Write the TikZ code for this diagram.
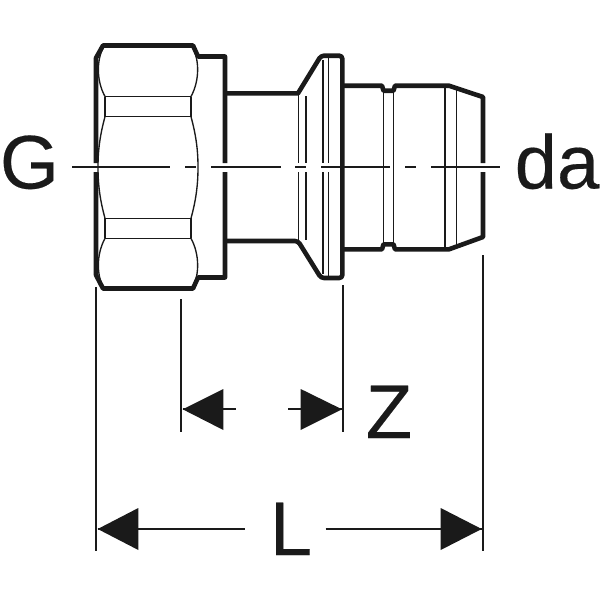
\documentclass[tikz,border=0pt]{standalone}
\usepackage{fontspec}
\setmainfont[FakeBold=0.25]{Liberation Sans}
\definecolor{ink}{HTML}{1A1A1A}
\tikzset{
  thickline/.style={draw=ink,line width=4.6pt,line join=round,line cap=butt},
  thinline/.style={draw=ink,line width=1.35pt},
  centre/.style={draw=ink,line width=1.6pt},
  extline/.style={draw=ink,line width=1.8pt},
  dimline/.style={draw=ink,line width=1.8pt},
  head/.style={fill=ink,draw=none},
  lab/.style={text=ink,inner sep=0pt,anchor=base,font=\fontsize{76}{76}\selectfont}
}
\begin{document}
\begin{tikzpicture}[x=1pt,y=-1pt]
\useasboundingbox (0,0) rectangle (600,600);
\fill[white] (0,0) rectangle (600,600);
% nut outline
\draw[thickline] (96,163) -- (96,58) -- (103,45.5) -- (193,45.5) -- (198,56.5) -- (225,56.5) -- (225,163);
\draw[thickline] (96,172) -- (96,275) -- (103,288.5) -- (193,288.5) -- (198,277.5) -- (225,277.5) -- (225,172);
% hex facets
\draw[thinline] (105,96.5) -- (191,96.5) (105,116.7) -- (191,116.7) (105,218.3) -- (191,218.3) (105,238.3) -- (191,238.3);
\draw[thinline] (105,96.5) -- (105,116.7) (191,96.5) -- (191,116.7) (105,218.3) -- (105,238.3) (191,218.3) -- (191,238.3);
\draw[thinline] (103,48) .. controls (97,60) and (96,80) .. (105,96.5);
\draw[thinline] (105,116.7) .. controls (100,135) and (98,150) .. (98,167) .. controls (98,185) and (100,200) .. (105,218.3);
\draw[thinline] (105,238.3) .. controls (96,255) and (97,275) .. (103,287);
\draw[thinline] (193,48) .. controls (199,60) and (200,80) .. (191,96.5);
\draw[thinline] (191,116.7) .. controls (196,135) and (198,150) .. (198,167) .. controls (198,185) and (196,200) .. (191,218.3);
\draw[thinline] (191,238.3) .. controls (200,255) and (199,275) .. (193,287);
% collar
\draw[thickline] (225,93.3) -- (298,93.3) [rounded corners=3pt] -- (321,55.7) -- (342.3,55.7) -- (342.3,278) -- (321,278) -- (298,241) [sharp corners] -- (225,241);
\draw[thinline] (298.7,94) -- (298.7,163) (298.7,172) -- (298.7,240) (306,96) -- (306,163) (306,172) -- (306,240);
\draw[thinline] (323,60) -- (323,163) (323,172) -- (323,274) (328.7,57) -- (328.7,163) (328.7,172) -- (328.7,276);
% spigot
\draw[thickline] (342,85.7) -- (382,85.7) -- (383.5,90.7) -- (393.5,90.7) -- (395,85.7) -- (449,85.7) -- (483,97) -- (483,163);
\draw[thickline] (342,249.3) -- (382,249.3) -- (383.5,244.3) -- (393.5,244.3) -- (395,249.3) -- (449,249.3) -- (483,237) -- (483,172);
\draw[thinline] (383.3,90) -- (383.3,245) (393.3,90) -- (393.3,245) (445,86) -- (445,249) (456.3,87) -- (456.3,248);
% centre line
\draw[centre] (72,167) -- (170,167) (185,167) -- (196,167) (211,167) -- (281,167) (295,167) -- (306,167) (321,167) -- (390,167) (405,167) -- (416,167) (431,167) -- (500,167);
% extension lines
\coordinate (e1a) at (96,287); \coordinate (e1b) at (96,551);
\coordinate (e2a) at (181,299); \coordinate (e2b) at (181,432);
\coordinate (e3a) at (342.7,285); \coordinate (e3b) at (342.7,432);
\coordinate (e4a) at (482.7,255); \coordinate (e4b) at (482.7,551);
\draw[extline] (e1a) -- (e1b) (e2a) -- (e2b) (e3a) -- (e3b) (e4a) -- (e4b);
% Z dimension
\coordinate (zl) at (182.7,409.3); \coordinate (zr) at (342,409.3);
\fill[head] (zl) -- (223.3,389) -- (223.3,430) -- cycle;
\fill[head] (zr) -- (300.7,389) -- (300.7,430) -- cycle;
\draw[dimline] (zl) -- (236,409.3) (288,409.3) -- (zr);
% L dimension
\coordinate (ll) at (97.7,529); \coordinate (lr) at (481.7,529);
\fill[head] (ll) -- (138.3,508) -- (138.3,550) -- cycle;
\fill[head] (lr) -- (440.7,508) -- (440.7,550) -- cycle;
\draw[dimline] (ll) -- (245,529) (325.7,529) -- (lr);
% labels
\node[lab] (G) at (29.5,188.5) {G};
\node[lab] (da) at (557,188.5) {da};
\node[lab] (Z) at (389,438) {Z};
\node[lab] (L) at (291,555) {L};
\end{tikzpicture}
\end{document}
